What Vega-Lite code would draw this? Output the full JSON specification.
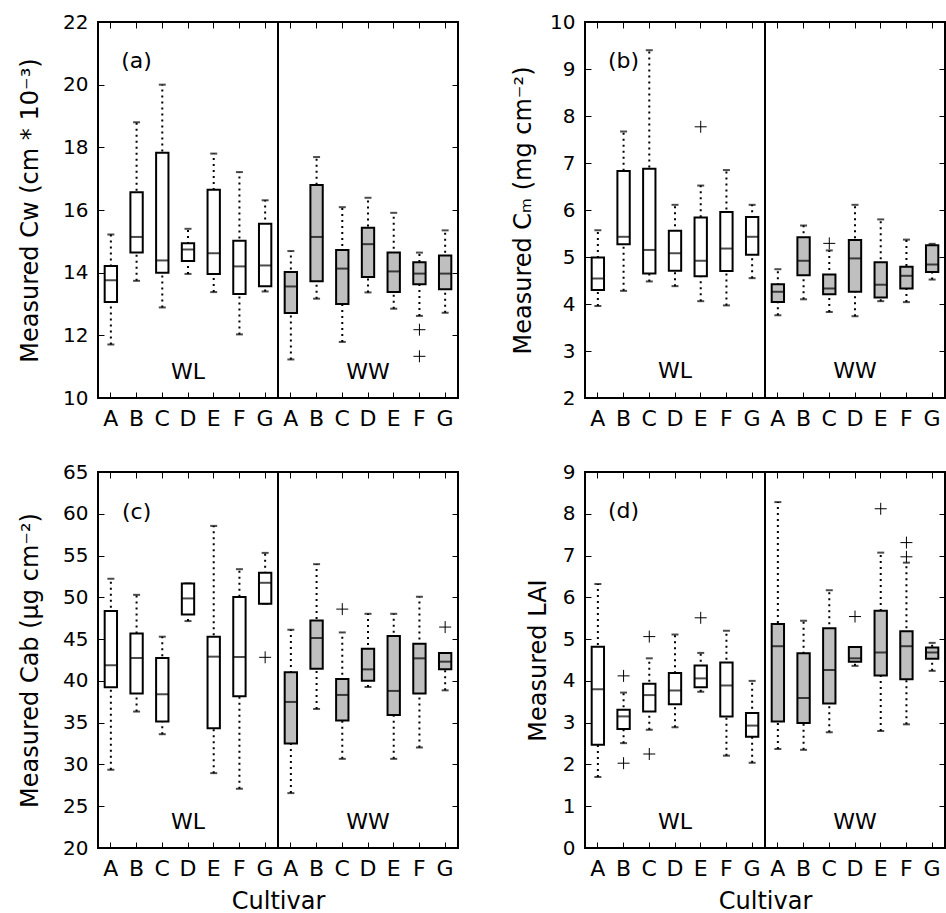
{
  "$schema": "https://vega.github.io/schema/vega-lite/v6.json",
  "padding": {"left": 17, "top": 11, "right": 0, "bottom": 0},
  "config": {
    "font": "DejaVu Sans",
    "view": {"stroke": "black", "strokeWidth": 2},
    "axis": {"grid": false, "domain": false, "tickColor": "black", "tickSize": -6, "tickWidth": 1, "labelColor": "black", "titleColor": "black", "titleFontWeight": "normal", "titleFontSize": 24, "labelFontSize": 20, "labelFont": "DejaVu Sans", "titleFont": "DejaVu Sans"},
    "axisBottom": {"labelFontSize": 22, "labelPadding": 16, "titlePadding": 10},
    "axisLeft": {"labelPadding": 16}
  },
  "datasets": {
    "a": [
      {"k": "WL|A", "g": "WL", "lo": 11.71, "q1": 13.06, "med": 13.76, "q3": 14.21, "hi": 15.22},
      {"k": "WL|B", "g": "WL", "lo": 13.74, "q1": 14.64, "med": 15.14, "q3": 16.57, "hi": 18.8},
      {"k": "WL|C", "g": "WL", "lo": 12.89, "q1": 14.0, "med": 14.39, "q3": 17.83, "hi": 20.0},
      {"k": "WL|D", "g": "WL", "lo": 13.96, "q1": 14.37, "med": 14.74, "q3": 14.94, "hi": 15.4},
      {"k": "WL|E", "g": "WL", "lo": 13.38, "q1": 13.96, "med": 14.62, "q3": 16.65, "hi": 17.8},
      {"k": "WL|F", "g": "WL", "lo": 12.03, "q1": 13.32, "med": 14.2, "q3": 15.02, "hi": 17.21},
      {"k": "WL|G", "g": "WL", "lo": 13.4, "q1": 13.57, "med": 14.23, "q3": 15.56, "hi": 16.31},
      {"k": "WW|A", "g": "WW", "lo": 11.23, "q1": 12.71, "med": 13.56, "q3": 14.02, "hi": 14.69},
      {"k": "WW|B", "g": "WW", "lo": 13.17, "q1": 13.73, "med": 15.14, "q3": 16.8, "hi": 17.69},
      {"k": "WW|C", "g": "WW", "lo": 11.79, "q1": 13.0, "med": 14.13, "q3": 14.72, "hi": 16.09},
      {"k": "WW|D", "g": "WW", "lo": 13.37, "q1": 13.86, "med": 14.91, "q3": 15.43, "hi": 16.39},
      {"k": "WW|E", "g": "WW", "lo": 12.85, "q1": 13.38, "med": 14.04, "q3": 14.64, "hi": 15.91},
      {"k": "WW|F", "g": "WW", "lo": 12.62, "q1": 13.63, "med": 13.97, "q3": 14.33, "hi": 14.64},
      {"k": "WW|G", "g": "WW", "lo": 12.72, "q1": 13.47, "med": 13.97, "q3": 14.55, "hi": 15.35}
    ],
    "ao": [
      {"k": "WW|F", "v": 12.18},
      {"k": "WW|F", "v": 11.33}
    ],
    "b": [
      {"k": "WL|A", "g": "WL", "lo": 3.96, "q1": 4.3, "med": 4.54, "q3": 4.99, "hi": 5.57},
      {"k": "WL|B", "g": "WL", "lo": 4.28, "q1": 5.27, "med": 5.43, "q3": 6.83, "hi": 7.67},
      {"k": "WL|C", "g": "WL", "lo": 4.48, "q1": 4.65, "med": 5.15, "q3": 6.88, "hi": 9.4},
      {"k": "WL|D", "g": "WL", "lo": 4.38, "q1": 4.71, "med": 5.08, "q3": 5.56, "hi": 6.11},
      {"k": "WL|E", "g": "WL", "lo": 4.06, "q1": 4.59, "med": 4.92, "q3": 5.84, "hi": 6.52},
      {"k": "WL|F", "g": "WL", "lo": 3.97, "q1": 4.7, "med": 5.18, "q3": 5.96, "hi": 6.85},
      {"k": "WL|G", "g": "WL", "lo": 4.55, "q1": 5.05, "med": 5.43, "q3": 5.85, "hi": 6.11},
      {"k": "WW|A", "g": "WW", "lo": 3.76, "q1": 4.04, "med": 4.26, "q3": 4.42, "hi": 4.74},
      {"k": "WW|B", "g": "WW", "lo": 4.1, "q1": 4.61, "med": 4.92, "q3": 5.42, "hi": 5.67},
      {"k": "WW|C", "g": "WW", "lo": 3.83, "q1": 4.21, "med": 4.33, "q3": 4.63, "hi": 5.14},
      {"k": "WW|D", "g": "WW", "lo": 3.74, "q1": 4.26, "med": 4.97, "q3": 5.36, "hi": 6.11},
      {"k": "WW|E", "g": "WW", "lo": 4.06, "q1": 4.14, "med": 4.41, "q3": 4.89, "hi": 5.8},
      {"k": "WW|F", "g": "WW", "lo": 4.04, "q1": 4.33, "med": 4.6, "q3": 4.79, "hi": 5.37},
      {"k": "WW|G", "g": "WW", "lo": 4.52, "q1": 4.68, "med": 4.84, "q3": 5.25, "hi": 5.28}
    ],
    "bo": [
      {"k": "WL|E", "v": 7.77},
      {"k": "WW|C", "v": 5.29}
    ],
    "c": [
      {"k": "WL|A", "g": "WL", "lo": 29.36, "q1": 39.23, "med": 41.86, "q3": 48.35, "hi": 52.22},
      {"k": "WL|B", "g": "WL", "lo": 36.33, "q1": 38.48, "med": 42.74, "q3": 45.68, "hi": 50.3},
      {"k": "WL|C", "g": "WL", "lo": 33.62, "q1": 35.13, "med": 38.4, "q3": 42.74, "hi": 45.29},
      {"k": "WL|D", "g": "WL", "lo": 47.16, "q1": 47.95, "med": 49.87, "q3": 51.66, "hi": 51.66},
      {"k": "WL|E", "g": "WL", "lo": 28.96, "q1": 34.34, "med": 42.9, "q3": 45.29, "hi": 58.55},
      {"k": "WL|F", "g": "WL", "lo": 27.09, "q1": 38.16, "med": 42.86, "q3": 50.03, "hi": 53.37},
      {"k": "WL|G", "g": "WL", "lo": 49.23, "q1": 49.23, "med": 51.74, "q3": 52.93, "hi": 55.32},
      {"k": "WW|A", "g": "WW", "lo": 26.57, "q1": 32.5, "med": 37.48, "q3": 41.03, "hi": 46.12},
      {"k": "WW|B", "g": "WW", "lo": 36.64, "q1": 41.46, "med": 45.13, "q3": 47.24, "hi": 53.97},
      {"k": "WW|C", "g": "WW", "lo": 30.67, "q1": 35.25, "med": 38.32, "q3": 40.23, "hi": 45.8},
      {"k": "WW|D", "g": "WW", "lo": 39.27, "q1": 40.03, "med": 41.38, "q3": 43.85, "hi": 48.03},
      {"k": "WW|E", "g": "WW", "lo": 30.67, "q1": 35.93, "med": 38.8, "q3": 45.37, "hi": 48.03},
      {"k": "WW|F", "g": "WW", "lo": 32.03, "q1": 38.48, "med": 42.7, "q3": 44.45, "hi": 50.07},
      {"k": "WW|G", "g": "WW", "lo": 38.87, "q1": 41.38, "med": 42.3, "q3": 43.34, "hi": 43.34}
    ],
    "co": [
      {"k": "WL|G", "v": 42.82},
      {"k": "WW|C", "v": 48.59},
      {"k": "WW|G", "v": 46.44}
    ],
    "d": [
      {"k": "WL|A", "g": "WL", "lo": 1.7, "q1": 2.47, "med": 3.8, "q3": 4.82, "hi": 6.32},
      {"k": "WL|B", "g": "WL", "lo": 2.51, "q1": 2.85, "med": 3.15, "q3": 3.31, "hi": 3.72},
      {"k": "WL|C", "g": "WL", "lo": 2.83, "q1": 3.27, "med": 3.66, "q3": 3.93, "hi": 4.54},
      {"k": "WL|D", "g": "WL", "lo": 2.89, "q1": 3.44, "med": 3.77, "q3": 4.19, "hi": 5.11},
      {"k": "WL|E", "g": "WL", "lo": 3.74, "q1": 3.85, "med": 4.06, "q3": 4.37, "hi": 4.67},
      {"k": "WL|F", "g": "WL", "lo": 2.21, "q1": 3.15, "med": 3.89, "q3": 4.44, "hi": 5.2},
      {"k": "WL|G", "g": "WL", "lo": 2.04, "q1": 2.66, "med": 2.93, "q3": 3.23, "hi": 4.0},
      {"k": "WW|A", "g": "WW", "lo": 2.37, "q1": 3.03, "med": 4.83, "q3": 5.36, "hi": 8.28},
      {"k": "WW|B", "g": "WW", "lo": 2.35, "q1": 2.99, "med": 3.59, "q3": 4.66, "hi": 5.44},
      {"k": "WW|C", "g": "WW", "lo": 2.77, "q1": 3.46, "med": 4.26, "q3": 5.26, "hi": 6.17},
      {"k": "WW|D", "g": "WW", "lo": 4.36, "q1": 4.46, "med": 4.54, "q3": 4.81, "hi": 4.81},
      {"k": "WW|E", "g": "WW", "lo": 2.8, "q1": 4.13, "med": 4.68, "q3": 5.68, "hi": 7.07},
      {"k": "WW|F", "g": "WW", "lo": 2.96, "q1": 4.04, "med": 4.83, "q3": 5.19, "hi": 6.83},
      {"k": "WW|G", "g": "WW", "lo": 4.24, "q1": 4.53, "med": 4.68, "q3": 4.8, "hi": 4.91}
    ],
    "do": [
      {"k": "WL|B", "v": 4.12},
      {"k": "WL|B", "v": 2.03},
      {"k": "WL|C", "v": 5.06},
      {"k": "WL|C", "v": 2.25},
      {"k": "WL|E", "v": 5.51},
      {"k": "WW|D", "v": 5.54},
      {"k": "WW|E", "v": 8.12},
      {"k": "WW|F", "v": 7.31},
      {"k": "WW|F", "v": 6.97}
    ],
    "lab": [
      {"p": "a", "k": "WL|B", "y": 20.75, "t": "(a)"},
      {"p": "a", "k": "WL|D", "y": 10.83, "t": "WL"},
      {"p": "a", "k": "WW|D", "y": 10.83, "t": "WW"},
      {"p": "b", "k": "WL|B", "y": 9.18, "t": "(b)"},
      {"p": "b", "k": "WL|D", "y": 2.57, "t": "WL"},
      {"p": "b", "k": "WW|D", "y": 2.57, "t": "WW"},
      {"p": "c", "k": "WL|B", "y": 60.25, "t": "(c)"},
      {"p": "c", "k": "WL|D", "y": 23.15, "t": "WL"},
      {"p": "c", "k": "WW|D", "y": 23.15, "t": "WW"},
      {"p": "d", "k": "WL|B", "y": 8.07, "t": "(d)"},
      {"p": "d", "k": "WL|D", "y": 0.63, "t": "WL"},
      {"p": "d", "k": "WW|D", "y": 0.63, "t": "WW"}
    ],
    "div": [{"k": "WW|A"}]
  },
  "columns": 2,
  "spacing": {"row": 74, "column": 127},
  "bounds": "flush",
  "concat": [
    {
      "width": 360, "height": 376,
      "resolve": {"axis": {"x": "independent", "y": "independent"}},
      "layer": [
        {"data": {"name": "a"}, "mark": {"type": "rule", "color": "black", "strokeWidth": 2, "strokeDash": [2, 4]},
         "encoding": {
           "x": {"field": "k", "type": "nominal", "scale": {"type": "band", "domain": ["WL|A","WL|B","WL|C","WL|D","WL|E","WL|F","WL|G","WW|A","WW|B","WW|C","WW|D","WW|E","WW|F","WW|G"], "paddingInner": 0, "paddingOuter": 0}, "axis": {"orient": "bottom", "title": null, "labelAngle": 0, "labelExpr": "split(datum.label, '|')[1]"}},
           "y": {"field": "lo", "type": "quantitative", "scale": {"domain": [10, 22], "nice": false, "zero": false}, "axis": {"orient": "left", "values": [10,12,14,16,18,20,22], "title": "Measured Cw (cm * 10⁻³)", "titlePadding": 20}},
           "y2": {"field": "hi"}}},
        {"data": {"name": "a"}, "mark": {"type": "tick", "color": "black", "thickness": 2, "size": 7},
         "encoding": {
           "x": {"field": "k", "type": "nominal", "axis": {"orient": "top", "labels": false, "title": null}},
           "y": {"field": "lo", "type": "quantitative", "axis": {"orient": "right", "labels": false, "title": null, "values": [10,12,14,16,18,20,22]}}}},
        {"data": {"name": "a"}, "mark": {"type": "tick", "color": "black", "thickness": 2, "size": 7},
         "encoding": {"x": {"field": "k", "type": "nominal", "axis": null}, "y": {"field": "hi", "type": "quantitative", "axis": null}}},
        {"data": {"name": "a"}, "mark": {"type": "bar", "stroke": "black", "strokeWidth": 2, "width": {"band": 0.48}},
         "encoding": {"x": {"field": "k", "type": "nominal", "axis": null}, "y": {"field": "q1", "type": "quantitative", "axis": null}, "y2": {"field": "q3"},
           "fill": {"field": "g", "type": "nominal", "scale": {"domain": ["WL", "WW"], "range": ["white", "#bfbfbf"]}, "legend": null}}},
        {"data": {"name": "a"}, "mark": {"type": "tick", "color": "black", "thickness": 2, "size": 13},
         "encoding": {"x": {"field": "k", "type": "nominal", "axis": null}, "y": {"field": "med", "type": "quantitative", "axis": null}}},
        {"data": {"name": "ao"}, "mark": {"type": "point", "shape": "M-1,0H1M0,-1V1", "size": 144, "stroke": "black", "strokeWidth": 1, "filled": false, "opacity": 1},
         "encoding": {"x": {"field": "k", "type": "nominal", "axis": null}, "y": {"field": "v", "type": "quantitative", "axis": null}}},
        {"data": {"name": "div"}, "mark": {"type": "rule", "color": "black", "strokeWidth": 2},
         "encoding": {"x": {"field": "k", "type": "nominal", "bandPosition": 0, "axis": null}}},
        {"data": {"name": "lab"}, "transform": [{"filter": "datum.p == 'a'"}], "mark": {"type": "text", "fontSize": 22, "color": "black", "baseline": "middle", "align": "center"},
         "encoding": {"x": {"field": "k", "type": "nominal", "axis": null}, "y": {"field": "y", "type": "quantitative", "axis": null}, "text": {"field": "t"}}}
      ]
    },
    {
      "width": 360, "height": 376,
      "resolve": {"axis": {"x": "independent", "y": "independent"}},
      "layer": [
        {"data": {"name": "b"}, "mark": {"type": "rule", "color": "black", "strokeWidth": 2, "strokeDash": [2, 4]},
         "encoding": {
           "x": {"field": "k", "type": "nominal", "scale": {"type": "band", "domain": ["WL|A","WL|B","WL|C","WL|D","WL|E","WL|F","WL|G","WW|A","WW|B","WW|C","WW|D","WW|E","WW|F","WW|G"], "paddingInner": 0, "paddingOuter": 0}, "axis": {"orient": "bottom", "title": null, "labelAngle": 0, "labelExpr": "split(datum.label, '|')[1]"}},
           "y": {"field": "lo", "type": "quantitative", "scale": {"domain": [2, 10], "nice": false, "zero": false}, "axis": {"orient": "left", "values": [2,3,4,5,6,7,8,9,10], "title": "Measured Cₘ (mg cm⁻²)", "titlePadding": 14}},
           "y2": {"field": "hi"}}},
        {"data": {"name": "b"}, "mark": {"type": "tick", "color": "black", "thickness": 2, "size": 7},
         "encoding": {
           "x": {"field": "k", "type": "nominal", "axis": {"orient": "top", "labels": false, "title": null}},
           "y": {"field": "lo", "type": "quantitative", "axis": {"orient": "right", "labels": false, "title": null, "values": [2,3,4,5,6,7,8,9,10]}}}},
        {"data": {"name": "b"}, "mark": {"type": "tick", "color": "black", "thickness": 2, "size": 7},
         "encoding": {"x": {"field": "k", "type": "nominal", "axis": null}, "y": {"field": "hi", "type": "quantitative", "axis": null}}},
        {"data": {"name": "b"}, "mark": {"type": "bar", "stroke": "black", "strokeWidth": 2, "width": {"band": 0.48}},
         "encoding": {"x": {"field": "k", "type": "nominal", "axis": null}, "y": {"field": "q1", "type": "quantitative", "axis": null}, "y2": {"field": "q3"},
           "fill": {"field": "g", "type": "nominal", "scale": {"domain": ["WL", "WW"], "range": ["white", "#bfbfbf"]}, "legend": null}}},
        {"data": {"name": "b"}, "mark": {"type": "tick", "color": "black", "thickness": 2, "size": 13},
         "encoding": {"x": {"field": "k", "type": "nominal", "axis": null}, "y": {"field": "med", "type": "quantitative", "axis": null}}},
        {"data": {"name": "bo"}, "mark": {"type": "point", "shape": "M-1,0H1M0,-1V1", "size": 144, "stroke": "black", "strokeWidth": 1, "filled": false, "opacity": 1},
         "encoding": {"x": {"field": "k", "type": "nominal", "axis": null}, "y": {"field": "v", "type": "quantitative", "axis": null}}},
        {"data": {"name": "div"}, "mark": {"type": "rule", "color": "black", "strokeWidth": 2},
         "encoding": {"x": {"field": "k", "type": "nominal", "bandPosition": 0, "axis": null}}},
        {"data": {"name": "lab"}, "transform": [{"filter": "datum.p == 'b'"}], "mark": {"type": "text", "fontSize": 22, "color": "black", "baseline": "middle", "align": "center"},
         "encoding": {"x": {"field": "k", "type": "nominal", "axis": null}, "y": {"field": "y", "type": "quantitative", "axis": null}, "text": {"field": "t"}}}
      ]
    },
    {
      "width": 360, "height": 376,
      "resolve": {"axis": {"x": "independent", "y": "independent"}},
      "layer": [
        {"data": {"name": "c"}, "mark": {"type": "rule", "color": "black", "strokeWidth": 2, "strokeDash": [2, 4]},
         "encoding": {
           "x": {"field": "k", "type": "nominal", "scale": {"type": "band", "domain": ["WL|A","WL|B","WL|C","WL|D","WL|E","WL|F","WL|G","WW|A","WW|B","WW|C","WW|D","WW|E","WW|F","WW|G"], "paddingInner": 0, "paddingOuter": 0}, "axis": {"orient": "bottom", "title": "Cultivar", "labelAngle": 0, "labelExpr": "split(datum.label, '|')[1]"}},
           "y": {"field": "lo", "type": "quantitative", "scale": {"domain": [20, 65], "nice": false, "zero": false}, "axis": {"orient": "left", "values": [20,25,30,35,40,45,50,55,60,65], "title": "Measured Cab (μg cm⁻²)", "titlePadding": 20}},
           "y2": {"field": "hi"}}},
        {"data": {"name": "c"}, "mark": {"type": "tick", "color": "black", "thickness": 2, "size": 7},
         "encoding": {
           "x": {"field": "k", "type": "nominal", "axis": {"orient": "top", "labels": false, "title": null}},
           "y": {"field": "lo", "type": "quantitative", "axis": {"orient": "right", "labels": false, "title": null, "values": [20,25,30,35,40,45,50,55,60,65]}}}},
        {"data": {"name": "c"}, "mark": {"type": "tick", "color": "black", "thickness": 2, "size": 7},
         "encoding": {"x": {"field": "k", "type": "nominal", "axis": null}, "y": {"field": "hi", "type": "quantitative", "axis": null}}},
        {"data": {"name": "c"}, "mark": {"type": "bar", "stroke": "black", "strokeWidth": 2, "width": {"band": 0.48}},
         "encoding": {"x": {"field": "k", "type": "nominal", "axis": null}, "y": {"field": "q1", "type": "quantitative", "axis": null}, "y2": {"field": "q3"},
           "fill": {"field": "g", "type": "nominal", "scale": {"domain": ["WL", "WW"], "range": ["white", "#bfbfbf"]}, "legend": null}}},
        {"data": {"name": "c"}, "mark": {"type": "tick", "color": "black", "thickness": 2, "size": 13},
         "encoding": {"x": {"field": "k", "type": "nominal", "axis": null}, "y": {"field": "med", "type": "quantitative", "axis": null}}},
        {"data": {"name": "co"}, "mark": {"type": "point", "shape": "M-1,0H1M0,-1V1", "size": 144, "stroke": "black", "strokeWidth": 1, "filled": false, "opacity": 1},
         "encoding": {"x": {"field": "k", "type": "nominal", "axis": null}, "y": {"field": "v", "type": "quantitative", "axis": null}}},
        {"data": {"name": "div"}, "mark": {"type": "rule", "color": "black", "strokeWidth": 2},
         "encoding": {"x": {"field": "k", "type": "nominal", "bandPosition": 0, "axis": null}}},
        {"data": {"name": "lab"}, "transform": [{"filter": "datum.p == 'c'"}], "mark": {"type": "text", "fontSize": 22, "color": "black", "baseline": "middle", "align": "center"},
         "encoding": {"x": {"field": "k", "type": "nominal", "axis": null}, "y": {"field": "y", "type": "quantitative", "axis": null}, "text": {"field": "t"}}}
      ]
    },
    {
      "width": 360, "height": 376,
      "resolve": {"axis": {"x": "independent", "y": "independent"}},
      "layer": [
        {"data": {"name": "d"}, "mark": {"type": "rule", "color": "black", "strokeWidth": 2, "strokeDash": [2, 4]},
         "encoding": {
           "x": {"field": "k", "type": "nominal", "scale": {"type": "band", "domain": ["WL|A","WL|B","WL|C","WL|D","WL|E","WL|F","WL|G","WW|A","WW|B","WW|C","WW|D","WW|E","WW|F","WW|G"], "paddingInner": 0, "paddingOuter": 0}, "axis": {"orient": "bottom", "title": "Cultivar", "labelAngle": 0, "labelExpr": "split(datum.label, '|')[1]"}},
           "y": {"field": "lo", "type": "quantitative", "scale": {"domain": [0, 9], "nice": false, "zero": false}, "axis": {"orient": "left", "values": [0,1,2,3,4,5,6,7,8,9], "title": "Measured LAI", "titlePadding": 12}},
           "y2": {"field": "hi"}}},
        {"data": {"name": "d"}, "mark": {"type": "tick", "color": "black", "thickness": 2, "size": 7},
         "encoding": {
           "x": {"field": "k", "type": "nominal", "axis": {"orient": "top", "labels": false, "title": null}},
           "y": {"field": "lo", "type": "quantitative", "axis": {"orient": "right", "labels": false, "title": null, "values": [0,1,2,3,4,5,6,7,8,9]}}}},
        {"data": {"name": "d"}, "mark": {"type": "tick", "color": "black", "thickness": 2, "size": 7},
         "encoding": {"x": {"field": "k", "type": "nominal", "axis": null}, "y": {"field": "hi", "type": "quantitative", "axis": null}}},
        {"data": {"name": "d"}, "mark": {"type": "bar", "stroke": "black", "strokeWidth": 2, "width": {"band": 0.48}},
         "encoding": {"x": {"field": "k", "type": "nominal", "axis": null}, "y": {"field": "q1", "type": "quantitative", "axis": null}, "y2": {"field": "q3"},
           "fill": {"field": "g", "type": "nominal", "scale": {"domain": ["WL", "WW"], "range": ["white", "#bfbfbf"]}, "legend": null}}},
        {"data": {"name": "d"}, "mark": {"type": "tick", "color": "black", "thickness": 2, "size": 13},
         "encoding": {"x": {"field": "k", "type": "nominal", "axis": null}, "y": {"field": "med", "type": "quantitative", "axis": null}}},
        {"data": {"name": "do"}, "mark": {"type": "point", "shape": "M-1,0H1M0,-1V1", "size": 144, "stroke": "black", "strokeWidth": 1, "filled": false, "opacity": 1},
         "encoding": {"x": {"field": "k", "type": "nominal", "axis": null}, "y": {"field": "v", "type": "quantitative", "axis": null}}},
        {"data": {"name": "div"}, "mark": {"type": "rule", "color": "black", "strokeWidth": 2},
         "encoding": {"x": {"field": "k", "type": "nominal", "bandPosition": 0, "axis": null}}},
        {"data": {"name": "lab"}, "transform": [{"filter": "datum.p == 'd'"}], "mark": {"type": "text", "fontSize": 22, "color": "black", "baseline": "middle", "align": "center"},
         "encoding": {"x": {"field": "k", "type": "nominal", "axis": null}, "y": {"field": "y", "type": "quantitative", "axis": null}, "text": {"field": "t"}}}
      ]
    }
  ]
}
